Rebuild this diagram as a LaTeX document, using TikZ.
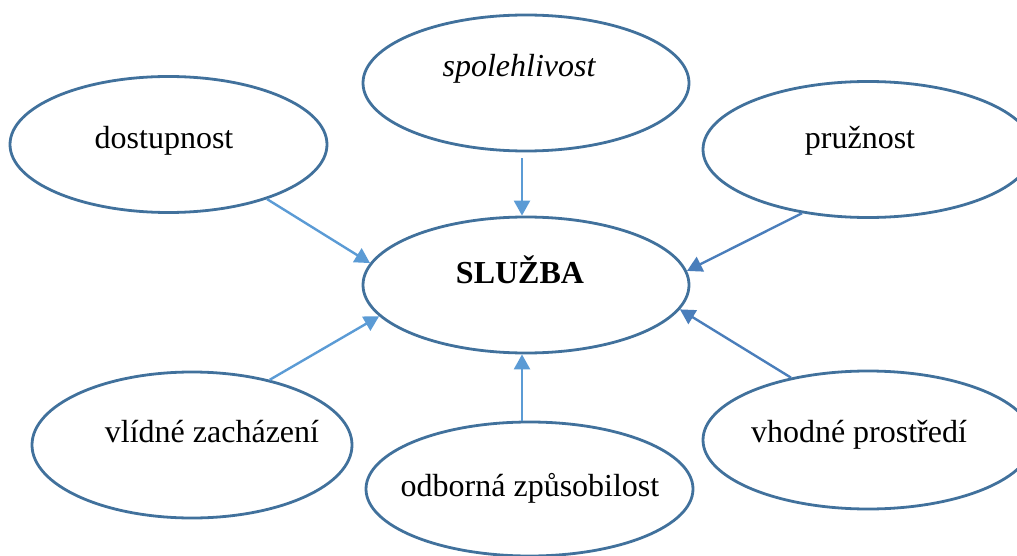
\documentclass[tikz,border=0pt]{standalone}
\usepackage{fontspec}
\setmainfont{Liberation Serif}
\usetikzlibrary{shapes.geometric,arrows.meta}
\definecolor{rimblue}{HTML}{41719C}
\definecolor{lightarrow}{HTML}{5B9BD5}
\definecolor{darkarrow}{HTML}{4A7EBB}
\tikzset{
  bubble/.style={ellipse, draw=rimblue, line width=2.8pt, inner sep=0pt},
  caption/.style={anchor=base, inner sep=0pt, font=\fontsize{32}{38}\selectfont},
  link/.style={line width=2.4pt, -{Triangle[length=15pt,width=16pt]}},
}
\begin{document}
\begin{tikzpicture}[x=1pt,y=-1pt]
\useasboundingbox (0,0) rectangle (1017,556);

% ellipses
\node[bubble, minimum width=326pt, minimum height=136pt] (rel)  at (526,83)    {};
\node[bubble, minimum width=317pt, minimum height=136pt] (dost) at (168.5,144.5) {};
\node[bubble, minimum width=330pt, minimum height=136pt] (pruz) at (868,149.5) {};
\node[bubble, minimum width=326pt, minimum height=136pt] (serv) at (526,285)   {};
\node[bubble, minimum width=320pt, minimum height=146pt] (vlid) at (192,445)   {};
\node[bubble, minimum width=327pt, minimum height=134pt] (odb)  at (529.5,489) {};
\node[bubble, minimum width=330pt, minimum height=138pt] (vhod) at (868,440)   {};

% labels
\node[caption] (trel)  at (519,77)  {\itshape spolehlivost};
\node[caption] (tdost) at (164,149) {dostupnost};
\node[caption] (tpruz) at (860,149) {pružnost};
\node[caption] (tserv) at (520,283) {\bfseries SLUŽBA};
\node[caption] (tvlid) at (212,442) {vlídné zacházení};
\node[caption] (todb)  at (530,496) {odborná způsobilost};
\node[caption] (tvhod) at (859,442) {vhodné prostředí};

% connectors
\draw[link, lightarrow, shorten <=6pt] ([xshift=-4pt]rel.south) -- ([xshift=-4pt]serv.north);
\draw[link, lightarrow] (dost.-29.5) -- (serv.172.5);
\draw[link, darkarrow]  (pruz.224.4) -- (serv.5.4);
\draw[link, lightarrow] (vlid.40.9) -- (serv.192.1);
\draw[link, lightarrow] ([xshift=-7.5pt]odb.north) -- ([xshift=-4pt]serv.south);
\draw[link, darkarrow]  (vhod.141.3) -- (serv.-9.2);
\end{tikzpicture}
\end{document}
